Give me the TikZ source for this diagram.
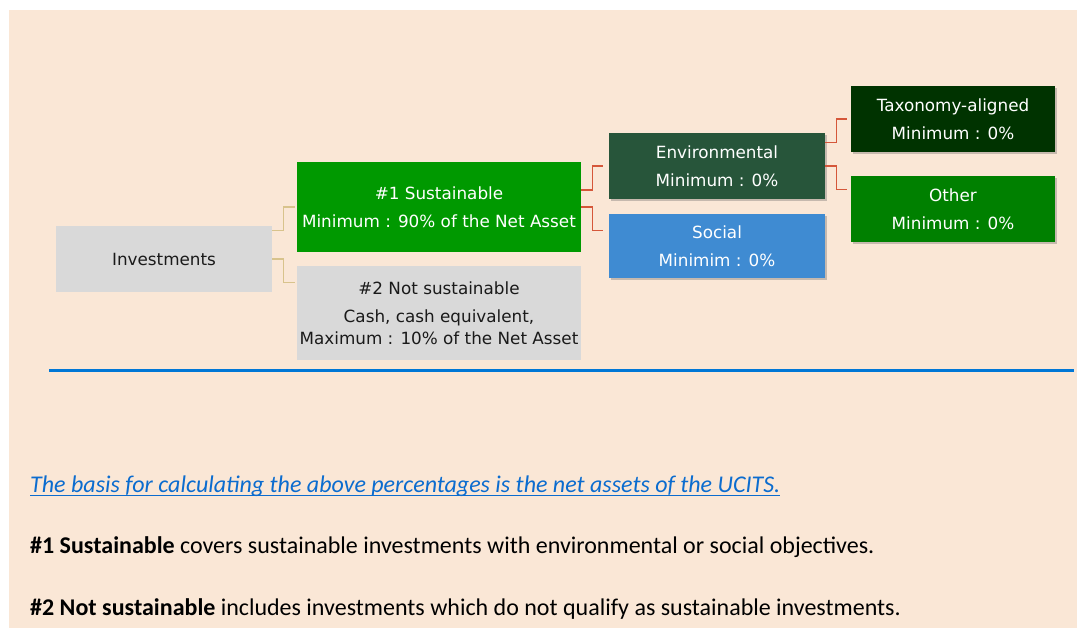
\documentclass[tikz,border=0pt]{standalone}
\usepackage{fontspec}
\newfontfamily\boxfont{DejaVu Sans}
\newfontfamily\calibri{Carlito}
\usetikzlibrary{shadows,calc}
\definecolor{peach}{HTML}{FAE7D6}
\definecolor{boxgray}{HTML}{D9D9D9}
\definecolor{susgreen}{HTML}{009900}
\definecolor{envgreen}{HTML}{27553A}
\definecolor{socblue}{HTML}{3F8BD2}
\definecolor{taxgreen}{HTML}{003300}
\definecolor{othgreen}{HTML}{008000}
\definecolor{tanline}{HTML}{D8C38C}
\definecolor{redline}{HTML}{D5573A}
\definecolor{rule}{HTML}{0077D6}
\definecolor{link}{HTML}{0B6CCF}
\definecolor{ink}{HTML}{1A1A1A}
\tikzset{
  box/.style={inner sep=0pt, align=center, font=\boxfont\fontsize{16.8}{28.5}\selectfont},
  graybox/.style={box, fill=boxgray, text=ink},
  colbox/.style={box, text=white},
  shad/.style={drop shadow={shadow xshift=1.5pt, shadow yshift=-2pt, opacity=0.35, fill=black!60}},
  tanconn/.style={draw=tanline, line width=1.2pt},
  redconn/.style={draw=redline, line width=1.4pt},
  btext/.style={anchor=base west, inner sep=0pt, font=\calibri\fontsize{24}{28}\selectfont, text=black}
}
\begin{document}
\begin{tikzpicture}[x=1pt,y=-1pt]
\useasboundingbox (0,0) rectangle (1077,628);
\fill[peach] (9,10) rectangle (1077,628);

\node[graybox, minimum width=216pt, minimum height=66pt] (inv) at (164,259) {Investments};
\node[colbox, fill=susgreen, minimum width=284pt, minimum height=90pt] (s1) at (439,207) {\#1 Sustainable\\Minimum : 90\% of the Net Asset};
\node[graybox, minimum width=284pt, minimum height=94pt] (s2) at (439,313) {\#2 Not sustainable\\Cash, cash equivalent,\\[-7pt]Maximum : 10\% of the Net Asset};
\node[colbox, shad, fill=envgreen, minimum width=216pt, minimum height=66pt] (env) at (717,166) {Environmental\\Minimum : 0\%};
\node[colbox, shad, fill=socblue, minimum width=216pt, minimum height=64pt] (soc) at (717,246) {Social\\Minimim : 0\%};
\node[colbox, shad, fill=taxgreen, minimum width=204pt, minimum height=66pt] (tax) at (953,119) {Taxonomy-aligned\\Minimum : 0\%};
\node[colbox, shad, fill=othgreen, minimum width=204pt, minimum height=66pt] (oth) at (953,209) {Other\\Minimum : 0\%};

\draw[tanconn] ([yshift=-5pt]inv.north east) -- ++(11,0) |- ([xshift=-2pt]s1.west);
\draw[tanconn] (inv.east) -- ++(11,0) |- ([xshift=-2pt,yshift=-17pt]s2.north west);
\draw[redconn] ([yshift=17pt]s1.east) -- ++(11,0) |- ([xshift=-6pt]env.west);
\draw[redconn] (s1.east) -- ++(11,0) |- ([xshift=-6pt,yshift=-17pt]soc.north west);
\draw[redconn] ([yshift=-10pt]env.north east) -- ++(11,0) |- ([xshift=-4pt]tax.west);
\draw[redconn] (env.east) -- ++(11,0) |- ([xshift=-4pt,yshift=-14pt]oth.north west);

\coordinate (rl) at (49,370.5);
\coordinate (rr) at (1074,370.5);
\draw[rule, line width=3pt] (rl) -- (rr);

\node[btext, text=link] (basis) at (30,492) {\itshape The basis for calculating the above percentages is the net assets of the UCITS.};
\draw[link, line width=1.6pt] ([yshift=-3.5pt]basis.base west) -- ([yshift=-3.5pt]basis.base east);
\node[btext] (n1) at (30,553) {\textbf{\#1 Sustainable} covers sustainable investments with environmental or social objectives.};
\node[btext] (n2) at (30,615) {\textbf{\#2 Not sustainable} includes investments which do not qualify as sustainable investments.};
\end{tikzpicture}
\end{document}
